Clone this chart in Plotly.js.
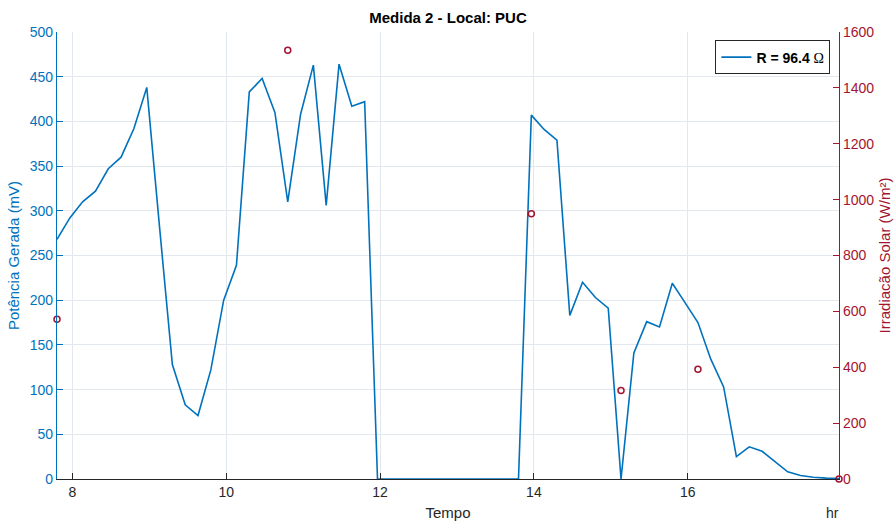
<!DOCTYPE html>
<html>
<head>
<meta charset="utf-8">
<script src="https://cdn.plot.ly/plotly-3.0.1.min.js"></script>
<style>
  html, body { margin: 0; padding: 0; background: #fff; }
  #chart { width: 896px; height: 521px; }
</style>
</head>
<body>
<div id="chart"></div>
<script>
// Sampling times (hours), one reading every 10 minutes from 7:48 to 17:58
const tempoHoras = [
  7.8, 7.967, 8.133, 8.3, 8.467, 8.633, 8.8, 8.967, 9.133, 9.3,
  9.467, 9.633, 9.8, 9.967, 10.133, 10.3, 10.467, 10.633, 10.8, 10.967,
  11.133, 11.3, 11.467, 11.633, 11.8, 11.967, 12.133, 12.3, 12.467, 12.633,
  12.8, 12.967, 13.133, 13.3, 13.467, 13.633, 13.8, 13.967, 14.133, 14.3,
  14.467, 14.633, 14.8, 14.967, 15.133, 15.3, 15.467, 15.633, 15.8, 15.967,
  16.133, 16.3, 16.467, 16.633, 16.8, 16.967, 17.133, 17.3, 17.467, 17.633,
  17.8, 17.967
];

// Generated power (mV) with R = 96.4 ohm
const potenciaMv = [
  268, 292, 310, 322, 347, 360, 392, 438, 282, 128,
  83, 71, 122, 200, 239, 433, 448, 410, 310, 408,
  463, 306, 464, 417, 422, 0, 0, 0, 0, 0,
  0, 0, 0, 0, 0, 0, 0, 407, 391, 379,
  183, 220, 203, 191, 0, 141, 176, 170, 219, 197,
  175, 134, 103, 25, 36, 31, 19, 8, 4, 2,
  1, 0.5
];

// Solar irradiance readings (W/m²)
const tempoIrradiacao = [7.8, 10.8, 13.967, 15.133, 16.133, 17.967];
const irradiacaoWm2 = [572, 1535, 949, 317, 393, 0];

const azul = '#0072BD';
const vermelho = '#A2142F';
const cinza = '#262626';
const grade = '#E3E8EE';
const fonte = 'Liberation Sans, Arial, Helvetica, sans-serif';

const traces = [
  {
    x: tempoHoras,
    y: potenciaMv,
    type: 'scatter',
    mode: 'lines',
    name: '<b>R = 96.4 </b><span style="font-family:Liberation Serif,Times New Roman,serif">Ω</span>',
    line: { color: azul, width: 1.6 },
    yaxis: 'y',
    cliponaxis: false
  },
  {
    x: tempoIrradiacao,
    y: irradiacaoWm2,
    type: 'scatter',
    mode: 'markers',
    showlegend: false,
    marker: { symbol: 'circle-open', size: 6, color: vermelho, line: { width: 1.5, color: vermelho } },
    yaxis: 'y2',
    cliponaxis: false
  }
];

const layout = {
  width: 896,
  height: 521,
  margin: { l: 57, r: 57, t: 32, b: 42 },
  paper_bgcolor: '#ffffff',
  plot_bgcolor: '#ffffff',
  font: { family: fonte, size: 14, color: cinza },
  title: {
    text: '<b>Medida 2 - Local: PUC</b>',
    font: { family: fonte, size: 15, color: '#000000' },
    x: 0.5, xref: 'paper', xanchor: 'center',
    y: 1, yref: 'container', yanchor: 'top', pad: { t: 12 }
  },
  xaxis: {
    range: [7.8, 17.967],
    tickvals: [8, 10, 12, 14, 16],
    ticktext: ['8', '10', '12', '14', '16'],
    ticks: 'inside', ticklen: 6, tickcolor: cinza, tickwidth: 1,
    showline: true, linecolor: cinza, linewidth: 1.2,
    showgrid: true, gridcolor: grade, gridwidth: 1,
    zeroline: false,
    tickfont: { family: fonte, size: 14, color: cinza },
    title: { text: 'Tempo', font: { family: fonte, size: 15, color: cinza }, standoff: 8 }
  },
  yaxis: {
    range: [0, 500],
    dtick: 50,
    ticks: 'inside', ticklen: 6, tickcolor: azul, tickwidth: 1,
    showline: true, linecolor: azul, linewidth: 1.2,
    showgrid: true, gridcolor: grade, gridwidth: 1,
    zeroline: false,
    tickfont: { family: fonte, size: 14, color: azul },
    title: { text: 'Potência Gerada (mV)', font: { family: fonte, size: 15, color: azul }, standoff: 6 }
  },
  yaxis2: {
    range: [0, 1600],
    dtick: 200,
    overlaying: 'y',
    side: 'right',
    ticks: 'inside', ticklen: 6, tickcolor: vermelho, tickwidth: 1,
    showline: true, linecolor: vermelho, linewidth: 1.2,
    showgrid: false,
    zeroline: false,
    tickfont: { family: fonte, size: 14, color: vermelho },
    title: { text: 'Irradiacão Solar (W/m²)', font: { family: fonte, size: 15, color: vermelho }, standoff: 6 }
  },
  legend: {
    x: 0.989, xanchor: 'right',
    y: 0.981, yanchor: 'top',
    bgcolor: '#ffffff',
    bordercolor: cinza,
    borderwidth: 1,
    itemwidth: 30,
    font: { family: fonte, size: 14, color: '#000000' },
    tracegroupgap: 0
  },
  annotations: [
    {
      text: 'hr',
      xref: 'paper', yref: 'paper',
      x: 0.992, y: 0, xanchor: 'center', yanchor: 'top',
      yshift: -24,
      showarrow: false,
      font: { family: fonte, size: 14, color: cinza }
    }
  ],
  showlegend: true
};

Plotly.newPlot('chart', traces, layout, { displayModeBar: false, staticPlot: true });
</script>
</body>
</html>
